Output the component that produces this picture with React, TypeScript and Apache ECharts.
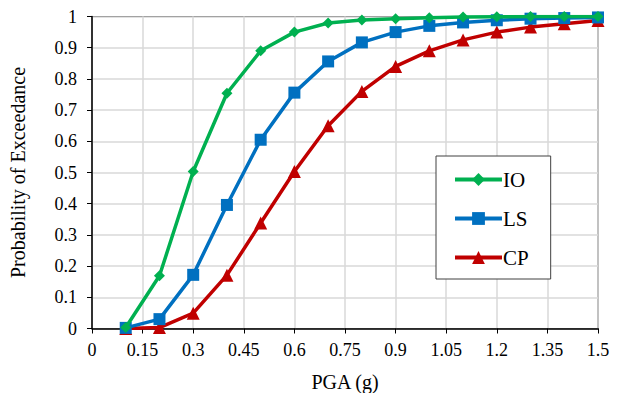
import React, { useEffect, useRef } from "react";
import * as echarts from "echarts";

const pga = [0.1, 0.2, 0.3, 0.4, 0.5, 0.6, 0.7, 0.8, 0.9, 1.0, 1.1, 1.2, 1.3, 1.4, 1.5];
const ioValues = [0.003, 0.169, 0.503, 0.754, 0.89, 0.95, 0.979, 0.989, 0.993, 0.996, 0.998, 0.999, 1.0, 1.0, 1.0];
const lsValues = [0.002, 0.03, 0.172, 0.396, 0.605, 0.756, 0.856, 0.917, 0.95, 0.97, 0.981, 0.988, 0.993, 0.995, 0.997];
const cpValues = [0.0, 0.003, 0.049, 0.171, 0.338, 0.503, 0.65, 0.76, 0.84, 0.89, 0.925, 0.95, 0.966, 0.977, 0.987];
const seriesNames = ["IO", "LS", "CP"];
const seriesColors = ["#00B050", "#0070C0", "#C00000"];
const seriesSymbols = ["diamond", "rect", "triangle"];
const symbolSizes = [11, 12, 13];

const FONT = "Liberation Serif";

export default function App() {
  const ref = useRef<HTMLDivElement>(null);
  useEffect(() => {
    if (!ref.current) return;
    const chart = echarts.init(ref.current, null, { renderer: "svg" });
    const all = [ioValues, lsValues, cpValues];
    chart.setOption({
      animation: false,
      backgroundColor: "#fff",
      textStyle: { fontFamily: FONT },
      grid: {
        left: 91,
        top: 16.5,
        width: 507,
        height: 312,
        show: true,
        borderColor: "#000",
        borderWidth: 1,
        containLabel: false,
      },
      legend: {
        orient: "vertical",
        left: 436,
        top: 156,
        data: seriesNames,
        itemWidth: 47,
        itemHeight: 16,
        itemGap: 18,
        padding: [13, 22, 11, 17],
        borderColor: "#404040",
        borderWidth: 1,
        backgroundColor: "#fff",
        lineStyle: { width: 4 },
        textStyle: { fontFamily: FONT, fontSize: 21, color: "#000", padding: [0, 0, 0, -4] },
      },
      xAxis: {
        type: "value",
        min: 0,
        max: 1.5,
        interval: 0.15,
        name: "PGA (g)",
        nameLocation: "middle",
        nameGap: 43,
        nameTextStyle: { fontFamily: FONT, fontSize: 20, color: "#000" },
        axisLine: { show: true, onZero: false, lineStyle: { color: "#000", width: 1.5 } },
        axisTick: { show: true, inside: false, length: 5, lineStyle: { color: "#000" } },
        axisLabel: {
          fontFamily: FONT,
          fontSize: 18,
          color: "#000",
          margin: 12,
          formatter: (v: number) => String(Math.round(v * 100) / 100),
        },
        splitLine: { show: true, lineStyle: { color: "#d9d9d9", width: 1.5 } },
      },
      yAxis: {
        type: "value",
        min: 0,
        max: 1,
        interval: 0.1,
        name: "Probability of Exceedance",
        nameLocation: "middle",
        nameGap: 64,
        nameTextStyle: { fontFamily: FONT, fontSize: 20, color: "#000" },
        axisLine: { show: true, onZero: false, lineStyle: { color: "#000", width: 1.5 } },
        axisTick: { show: true, inside: false, length: 5, lineStyle: { color: "#000" } },
        axisLabel: {
          fontFamily: FONT,
          fontSize: 18,
          color: "#000",
          margin: 15,
          formatter: (v: number) => String(Math.round(v * 10) / 10),
        },
        splitLine: { show: true, lineStyle: { color: "#d9d9d9", width: 1.5 } },
      },
      series: seriesNames.map((name, i) => ({
        name,
        type: "line",
        data: pga.map((x, j) => [x, all[i][j]]),
        symbol: seriesSymbols[i],
        symbolSize: symbolSizes[i],
        showAllSymbol: true,
        lineStyle: { color: seriesColors[i], width: 3.5 },
        itemStyle: { color: seriesColors[i] },
        z: 3 - i,
      })),
    });
    return () => chart.dispose();
  }, []);
  return <div ref={ref} style={{ width: 618, height: 401, margin: -8 }} />;
}
